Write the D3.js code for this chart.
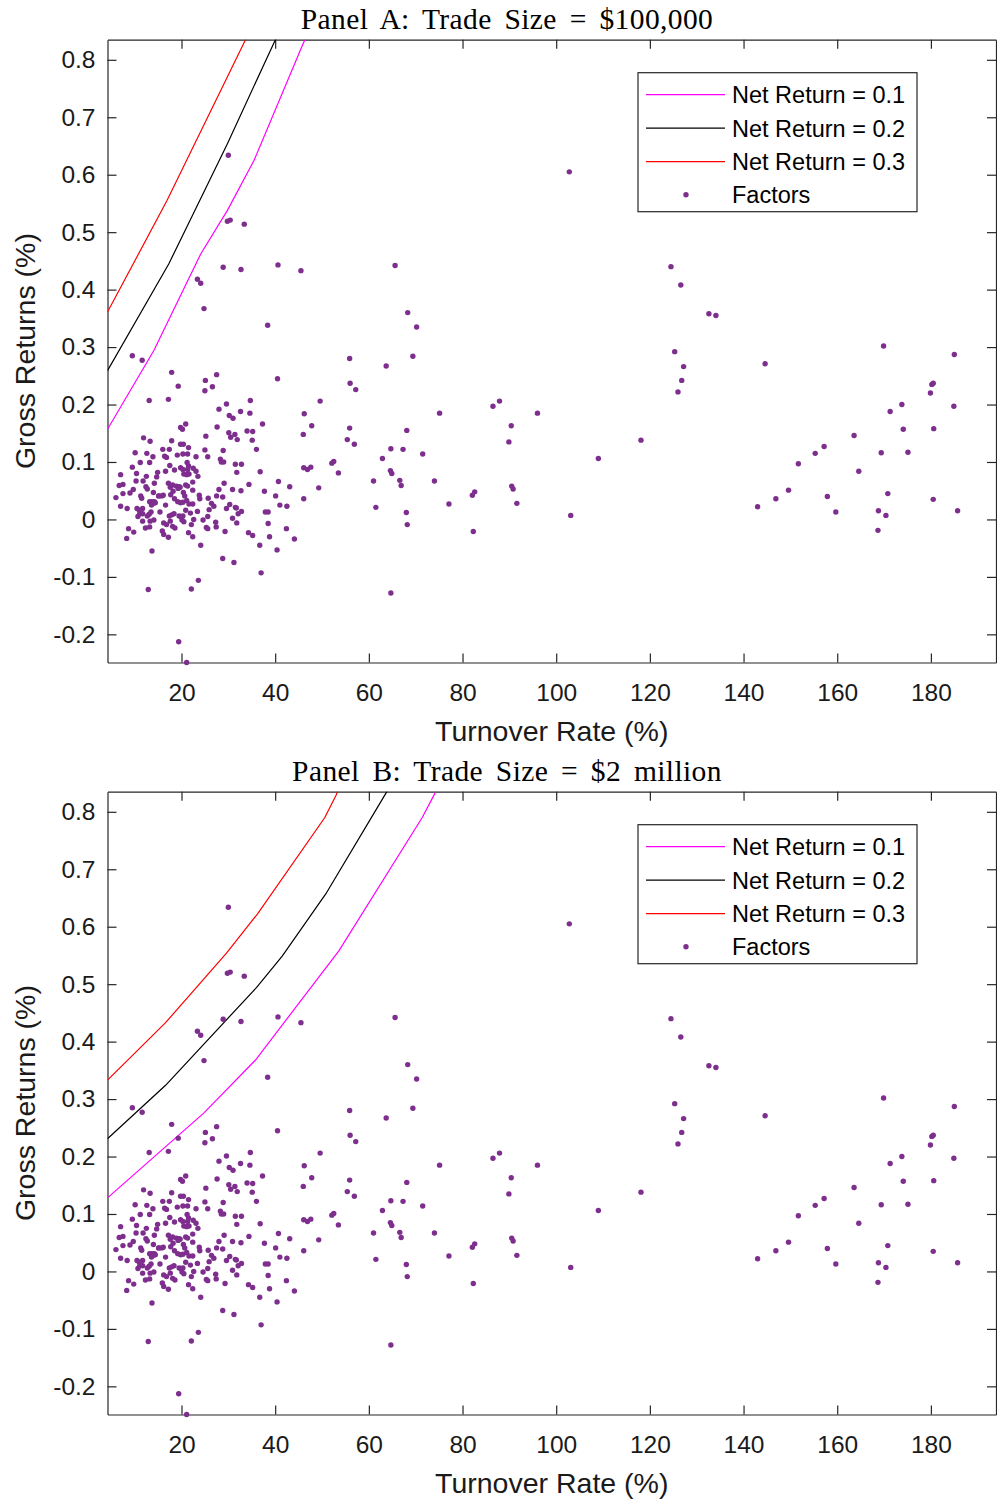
<!DOCTYPE html>
<html>
<head>
<meta charset="utf-8">
<script src="https://cdn.jsdelivr.net/npm/d3@7"></script>
<style>
  body { margin: 0; background: #fff; }
  svg { display: block; }
  .tick text { font-family: "Liberation Sans", Arial, sans-serif; }
</style>
</head>
<body>
<div id="chart"></div>
<script>
// factor turnover rate (%) and gross return (%) -- same factors in both panels
const factorTurnover = [
  9.5, 11.6, 17.9, 19.3, 13.1, 17.2, 25.1, 25.0, 19.8, 20.2, 20.9, 11.9, 13.3, 17.9, 25.2, 19.8, 20.4, 16.0, 17.4, 21.5,
  10.1, 12.6, 13.9, 16.4, 16.8, 19.1, 20.3, 21.3, 25.0, 25.6, 23.1, 11.2, 13.2, 17.5, 21.2, 21.5, 9.5, 10.4, 12.5, 14.9,
  16.6, 18.5, 19.8, 20.3, 21.3, 22.5, 23.1, 20.5, 21.1, 21.6, 23.5, 7.0, 10.3, 11.8, 14.7, 17.2, 18.1, 18.9, 19.5, 20.9,
  21.3, 22.4, 14.2, 6.7, 7.5, 9.7, 12.4, 12.7, 14.0, 15.2, 15.8, 17.6, 18.2, 19.3, 19.7, 20.4, 20.7, 22.4, 23.8, 23.9,
  6.0, 7.5, 9.0, 11.3, 11.5, 13.2, 13.7, 14.2, 14.4, 15.1, 16.1, 17.7, 18.5, 19.8, 20.3, 19.2, 21.1, 21.6, 22.4, 7.0,
  8.4, 10.5, 11.0, 11.7, 13.6, 14.0, 13.5, 15.4, 16.6, 17.4, 17.9, 18.4, 19.5, 19.8, 20.3, 20.9, 21.9, 23.4, 11.1, 11.7,
  10.7, 12.7, 13.1, 25.9, 25.6, 11.7, 13.3, 14.1, 16.2, 16.8, 17.6, 18.1, 18.6, 20.1, 20.5, 22.1, 22.6, 24.6, 8.7, 9.8,
  12.3, 13.2, 15.9, 16.2, 17.2, 21.5, 22.4, 25.3, 25.6, 8.3, 24.1, 13.7,
  27.5, 26.6, 40.5, 34.7, 29.6, 28.0, 32.6, 34.6, 37.3, 27.6, 46.2, 30.2, 31.0, 30.1, 31.4, 30.5, 31.9, 34.0, 35.2, 35.1,
  46.0, 36.0, 28.9, 28.3, 28.5, 29.0, 31.5, 32.8, 31.8, 36.8, 46.1, 46.9, 47.6, 29.1, 28.0, 30.9, 32.7, 34.4, 40.7, 43.1,
  37.7, 27.5, 28.8, 25.7, 40.1, 46.1, 26.4, 26.9, 30.3, 29.6, 31.5, 31.7, 41.0, 42.5, 32.8, 32.1, 37.9, 38.5, 30.9, 27.3,
  27.4, 31.8, 38.5, 29.3, 34.3, 35.2, 42.4, 38.8, 44.1, 36.7, 40.4, 28.8,
  30.0, 29.8, 30.4, 33.4, 28.9, 32.7, 40.6, 45.5, 23.4, 24.1, 24.8, 38.4,
  31.2, 37.0, 23.6, 12.9, 22.1, 19.4, 21.1,
  65.6, 68.3, 70.2, 55.9, 69.4, 63.7, 56.0, 57.2, 49.6, 86.5, 87.9, 75.1, 47.8, 55.9, 55.4, 56.9, 68.1, 64.7, 67.3, 71.5,
  62.9, 52.1, 52.5, 53.5, 64.6, 64.9, 61.0, 66.6, 66.9, 74.0, 49.3, 82.1, 82.6, 77.1, 61.5, 68.0, 68.2, 82.3, 64.7,
  102.8, 124.5, 126.6, 132.6, 134.1, 125.3, 127.2, 126.8, 126.0, 96.0, 90.4, 89.9, 118.1, 109.0, 90.5, 90.8, 91.6, 103.1, 143.0,
  144.6, 169.9, 185.0, 180.5, 180.2, 179.9, 173.8, 171.3, 184.9, 174.1, 180.6, 163.6, 157.2, 155.3, 169.4, 175.1, 151.7, 164.6,
  149.6, 146.9, 157.9, 159.7, 170.8, 168.8, 170.4, 168.7, 180.5, 185.7
];
const factorGross = [
  0.285, 0.277, 0.256, 0.232, 0.207, 0.209, 0.242, 0.224, 0.160, 0.157, 0.166, 0.142, 0.136, 0.137, 0.145, 0.131, 0.131, 0.122, 0.122, 0.125,
  0.116, 0.115, 0.109, 0.110, 0.108, 0.112, 0.114, 0.114, 0.121, 0.109, 0.109, 0.099, 0.099, 0.094, 0.099, 0.093, 0.091, 0.080, 0.075, 0.082,
  0.084, 0.086, 0.090, 0.087, 0.087, 0.089, 0.084, 0.079, 0.078, 0.079, 0.075, 0.078, 0.067, 0.067, 0.074, 0.063, 0.060, 0.058, 0.057, 0.060,
  0.058, 0.065, 0.063, 0.059, 0.061, 0.052, 0.057, 0.053, 0.047, 0.041, 0.041, 0.056, 0.049, 0.054, 0.056, 0.047, 0.041, 0.051, 0.042, 0.036,
  0.038, 0.045, 0.046, 0.041, 0.037, 0.031, 0.031, 0.031, 0.029, 0.041, 0.042, 0.043, 0.036, 0.029, 0.030, 0.031, 0.033, 0.027, 0.027, 0.023,
  0.019, 0.019, 0.016, 0.019, 0.025, 0.028, 0.013, 0.013, 0.025, 0.006, 0.008, 0.010, 0.006, 0.005, 0.006, 0.016, 0.011, 0.014, 0.010, 0.010,
  0.005, 0.006, 0.009, 0.017, 0.005, -0.003, -0.003, -0.001, -0.006, -0.009, -0.003, -0.012, -0.015, -0.001, -0.004, -0.009, 0.000, -0.001, -0.016, -0.022,
  -0.015, -0.013, -0.020, -0.026, -0.031, -0.023, -0.030, -0.014, -0.016, -0.033, -0.045, -0.055,
  0.252, 0.231, 0.245, 0.207, 0.201, 0.192, 0.188, 0.185, 0.166, 0.161, 0.184, 0.181, 0.176, 0.151, 0.148, 0.143, 0.139, 0.154, 0.153, 0.138,
  0.148, 0.122, 0.120, 0.105, 0.100, 0.100, 0.096, 0.096, 0.082, 0.083, 0.090, 0.087, 0.091, 0.063, 0.052, 0.052, 0.050, 0.061, 0.066, 0.057,
  0.049, 0.041, 0.039, 0.037, 0.041, 0.036, 0.028, 0.023, 0.026, 0.019, 0.021, 0.020, 0.025, 0.023, 0.014, 0.010, 0.013, 0.013, 0.002, -0.005,
  -0.013, -0.006, -0.007, -0.021, -0.023, -0.028, -0.016, -0.030, -0.034, -0.045, -0.053, -0.068,
  0.634, 0.519, 0.521, 0.514, 0.439, 0.435, 0.443, 0.433, 0.418, 0.411, 0.367, 0.338,
  -0.075, -0.093, -0.106, -0.122, -0.121, -0.213, -0.249,
  0.442, 0.360, 0.335, 0.280, 0.284, 0.267, 0.237, 0.226, 0.206, 0.197, 0.206, 0.185, 0.163, 0.159, 0.139, 0.131, 0.155, 0.123, 0.122, 0.114,
  0.106, 0.098, 0.101, 0.081, 0.085, 0.080, 0.067, 0.068, 0.059, 0.067, 0.055, 0.042, 0.048, 0.027, 0.021, 0.012, -0.009, -0.021, -0.128,
  0.605, 0.440, 0.408, 0.358, 0.355, 0.292, 0.266, 0.242, 0.222, 0.185, 0.163, 0.135, 0.138, 0.106, 0.058, 0.053, 0.028, 0.007, 0.022,
  0.271, 0.302, 0.287, 0.237, 0.235, 0.220, 0.200, 0.188, 0.197, 0.157, 0.158, 0.146, 0.127, 0.115, 0.116, 0.117, 0.097, 0.084,
  0.051, 0.036, 0.040, 0.013, 0.045, 0.015, 0.007, -0.019, 0.035, 0.015
];

// iso net-return curves: [turnover, gross return]
const netA01 = [[4.2, 0.157], [14.1, 0.294], [24.1, 0.462], [29.8, 0.538], [35.5, 0.625], [46.0, 0.829], [48.5, 0.87]];
const netA02 = [[4.2, 0.259], [17.3, 0.445], [23.4, 0.547], [29.8, 0.654], [39.7, 0.829], [42.2, 0.87]];
const netA03 = [[4.2, 0.361], [16.9, 0.555], [33.3, 0.829], [36.0, 0.874]];
const netB01 = [[4.2, 0.128], [24.8, 0.276], [35.8, 0.368], [53.6, 0.558], [71.4, 0.790], [73.9, 0.829], [77.0, 0.878]];
const netB02 = [[4.2, 0.231], [16.6, 0.324], [36.0, 0.494], [41.5, 0.549], [50.8, 0.657], [63.4, 0.829], [67.0, 0.878]];
const netB03 = [[4.2, 0.333], [16.6, 0.433], [29.6, 0.554], [36.2, 0.622], [50.6, 0.790], [53.0, 0.829], [56.0, 0.886]];

const netLabels = ["Net Return = 0.1", "Net Return = 0.2", "Net Return = 0.3"];
const netColors = ["#ff00ff", "#000000", "#ff0000"];
const xTicks = [20, 40, 60, 80, 100, 120, 140, 160, 180];
const yTicks = [-0.2, -0.1, 0, 0.1, 0.2, 0.3, 0.4, 0.5, 0.6, 0.7, 0.8];
const yTickLabels = ["-0.2", "-0.1", "0", "0.1", "0.2", "0.3", "0.4", "0.5", "0.6", "0.7", "0.8"];

const factors = factorTurnover.map((t, i) => ({ t: t, g: factorGross[i] }));

const W = 997, H = 1501;
const svg = d3.select("#chart").append("svg")
  .attr("width", W).attr("height", H);

const left = 107.5, right = 996, plotH = 622.8;
const sans = "'Liberation Sans', Arial, sans-serif";
const axisColor = "#262626";

const x = d3.scaleLinear().domain([4.2, 193.9]).range([left, right]);

function drawPanel(top, title, curves, id) {
  const y = d3.scaleLinear().domain([-0.249, 0.835]).range([top + plotH, top]);
  const g = svg.append("g");

  // clip for lines
  svg.append("clipPath").attr("id", "clip" + id)
    .append("rect").attr("x", left).attr("y", top)
    .attr("width", right - left).attr("height", plotH);

  // title
  svg.append("text")
    .attr("x", 507).attr("y", top - 11)
    .attr("text-anchor", "middle")
    .attr("font-family", "'Liberation Serif', 'Times New Roman', serif")
    .attr("font-size", 29.5)
    .attr("word-spacing", 5)
    .attr("letter-spacing", 0.4)
    .attr("fill", "#000")
    .text(title);

  // axes (ticks pointing inward, box on)
  const tickLen = 9;
  const bottom = g.append("g")
    .attr("transform", `translate(0,${top + plotH})`)
    .call(d3.axisBottom(x).tickValues(xTicks).tickSize(-tickLen).tickSizeOuter(0).tickPadding(21));
  const topAx = g.append("g")
    .attr("transform", `translate(0,${top})`)
    .call(d3.axisTop(x).tickValues(xTicks).tickSize(-tickLen).tickSizeOuter(0).tickFormat(""));
  const leftAx = g.append("g")
    .attr("transform", `translate(${left},0)`)
    .call(d3.axisLeft(y).tickValues(yTicks).tickSize(-tickLen).tickSizeOuter(0).tickPadding(12)
      .tickFormat((d, i) => yTickLabels[i]));
  const rightAx = g.append("g")
    .attr("transform", `translate(${right},0)`)
    .call(d3.axisRight(y).tickValues(yTicks).tickSize(-tickLen).tickSizeOuter(0).tickFormat(""));

  [bottom, topAx, leftAx, rightAx].forEach(a => {
    a.select(".domain").attr("stroke", axisColor).attr("stroke-width", 1.2);
    a.selectAll(".tick line").attr("stroke", axisColor).attr("stroke-width", 1.2);
    a.selectAll(".tick text").attr("fill", "#1a1a1a").attr("font-size", 24.5).attr("font-family", sans);
  });

  // axis labels
  svg.append("text")
    .attr("x", (left + right) / 2).attr("y", top + plotH + 78)
    .attr("text-anchor", "middle")
    .attr("font-family", sans).attr("font-size", 28.5).attr("fill", "#1a1a1a")
    .text("Turnover Rate (%)");

  svg.append("text")
    .attr("transform", `translate(35,${top + plotH / 2}) rotate(-90)`)
    .attr("text-anchor", "middle")
    .attr("font-family", sans).attr("font-size", 28.5).attr("fill", "#1a1a1a")
    .text("Gross Returns (%)");

  // net return curves
  const line = d3.line().x(d => x(d[0])).y(d => y(d[1]));
  const lg = svg.append("g").attr("clip-path", `url(#clip${id})`);
  curves.forEach((c, i) => {
    lg.append("path")
      .attr("d", line(c))
      .attr("fill", "none")
      .attr("stroke", netColors[i])
      .attr("stroke-width", 1.2);
  });

  // factors
  svg.append("g").selectAll("circle")
    .data(factors)
    .join("circle")
    .attr("cx", d => x(d.t))
    .attr("cy", d => y(d.g))
    .attr("r", 2.7)
    .attr("fill", "#7e2f8e");

  // legend
  const lx = 638, ly = top + 33;
  const leg = svg.append("g");
  leg.append("rect")
    .attr("x", lx).attr("y", ly)
    .attr("width", 279).attr("height", 139)
    .attr("fill", "#fff").attr("stroke", axisColor).attr("stroke-width", 1.2);
  const rowY = [22, 55.5, 89, 122];
  netLabels.forEach((lab, i) => {
    leg.append("line")
      .attr("x1", lx + 8).attr("x2", lx + 87)
      .attr("y1", ly + rowY[i]).attr("y2", ly + rowY[i])
      .attr("stroke", netColors[i]).attr("stroke-width", 1.2);
    leg.append("text")
      .attr("x", lx + 94).attr("y", ly + rowY[i] + 8.5)
      .attr("font-family", sans).attr("font-size", 23.5).attr("fill", "#000")
      .text(lab);
  });
  leg.append("circle")
    .attr("cx", lx + 48).attr("cy", ly + rowY[3])
    .attr("r", 2.7).attr("fill", "#7e2f8e");
  leg.append("text")
    .attr("x", lx + 94).attr("y", ly + rowY[3] + 8.5)
    .attr("font-family", sans).attr("font-size", 23.5).attr("fill", "#000")
    .text("Factors");
}

drawPanel(39.7, "Panel A: Trade Size = $100,000", [netA01, netA02, netA03], "A");
drawPanel(791.7, "Panel B: Trade Size = $2 million", [netB01, netB02, netB03], "B");
</script>
</body>
</html>
